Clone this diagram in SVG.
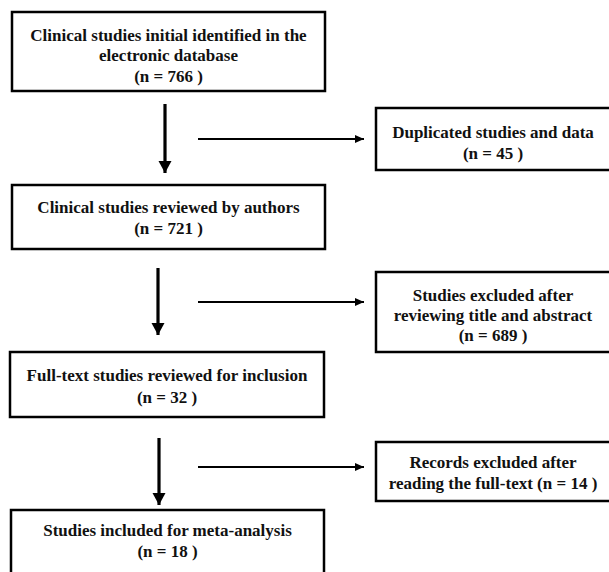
<svg xmlns="http://www.w3.org/2000/svg" width="609" height="572" viewBox="0 0 609 572">
<defs>
<style>
.box{fill:#fff;stroke:#000;stroke-width:2.5}
.t{font-family:"Liberation Serif","Times New Roman",serif;font-weight:bold;font-size:17px;fill:#111;text-anchor:middle}
.v{stroke:#000;stroke-width:3.2;fill:none}
.h{stroke:#000;stroke-width:2.2;fill:none}
</style>
<marker id="vh" markerUnits="userSpaceOnUse" markerWidth="14" markerHeight="14" refX="12" refY="6.5" orient="auto">
<path d="M0,0 L12,6.5 L0,13 Z" fill="#000"/>
</marker>
<marker id="hh" markerUnits="userSpaceOnUse" markerWidth="10" markerHeight="10" refX="9" refY="4" orient="auto">
<path d="M0,0 L9,4 L0,8 Z" fill="#000"/>
</marker>
</defs>
<rect width="609" height="572" fill="#fff"/>
<g id="connectors">
<line class="v" x1="165" y1="104" x2="165" y2="173" marker-end="url(#vh)"/>
<line class="h" x1="198" y1="139" x2="364" y2="139" marker-end="url(#hh)"/>
<line class="v" x1="158" y1="268" x2="158" y2="335" marker-end="url(#vh)"/>
<line class="h" x1="198" y1="302" x2="364" y2="302" marker-end="url(#hh)"/>
<line class="v" x1="159" y1="438" x2="159" y2="505" marker-end="url(#vh)"/>
<line class="h" x1="198" y1="467" x2="364" y2="467" marker-end="url(#hh)"/>
</g>
<g id="n1">
<rect class="box" x="12" y="12" width="313" height="79"/>
<text class="t" x="168.5" y="41">Clinical studies initial identified in the</text>
<text class="t" x="168.5" y="61">electronic database</text>
<text class="t" x="168.5" y="82">(n = 766 )</text>
</g>
<g id="n2">
<rect class="box" x="376" y="108" width="236" height="62"/>
<text class="t" x="493" y="138">Duplicated studies and data</text>
<text class="t" x="493" y="159">(n = 45 )</text>
</g>
<g id="n3">
<rect class="box" x="12" y="185" width="313" height="64"/>
<text class="t" x="168.5" y="213">Clinical studies reviewed by authors</text>
<text class="t" x="168.5" y="234">(n = 721 )</text>
</g>
<g id="n4">
<rect class="box" x="376" y="272" width="236" height="80"/>
<text class="t" x="493" y="301">Studies excluded after</text>
<text class="t" x="493" y="321">reviewing title and abstract</text>
<text class="t" x="493" y="341">(n = 689 )</text>
</g>
<g id="n5">
<rect class="box" x="10" y="352" width="314" height="65"/>
<text class="t" x="167" y="381">Full-text studies reviewed for inclusion</text>
<text class="t" x="167" y="403">(n = 32 )</text>
</g>
<g id="n6">
<rect class="box" x="376" y="442" width="236" height="59"/>
<text class="t" x="493" y="468">Records excluded after</text>
<text class="t" x="493" y="489">reading the full-text (n = 14 )</text>
</g>
<g id="n7">
<rect class="box" x="11" y="510" width="313" height="75"/>
<text class="t" x="167.5" y="536">Studies included for meta-analysis</text>
<text class="t" x="167.5" y="557">(n = 18 )</text>
</g>
</svg>
